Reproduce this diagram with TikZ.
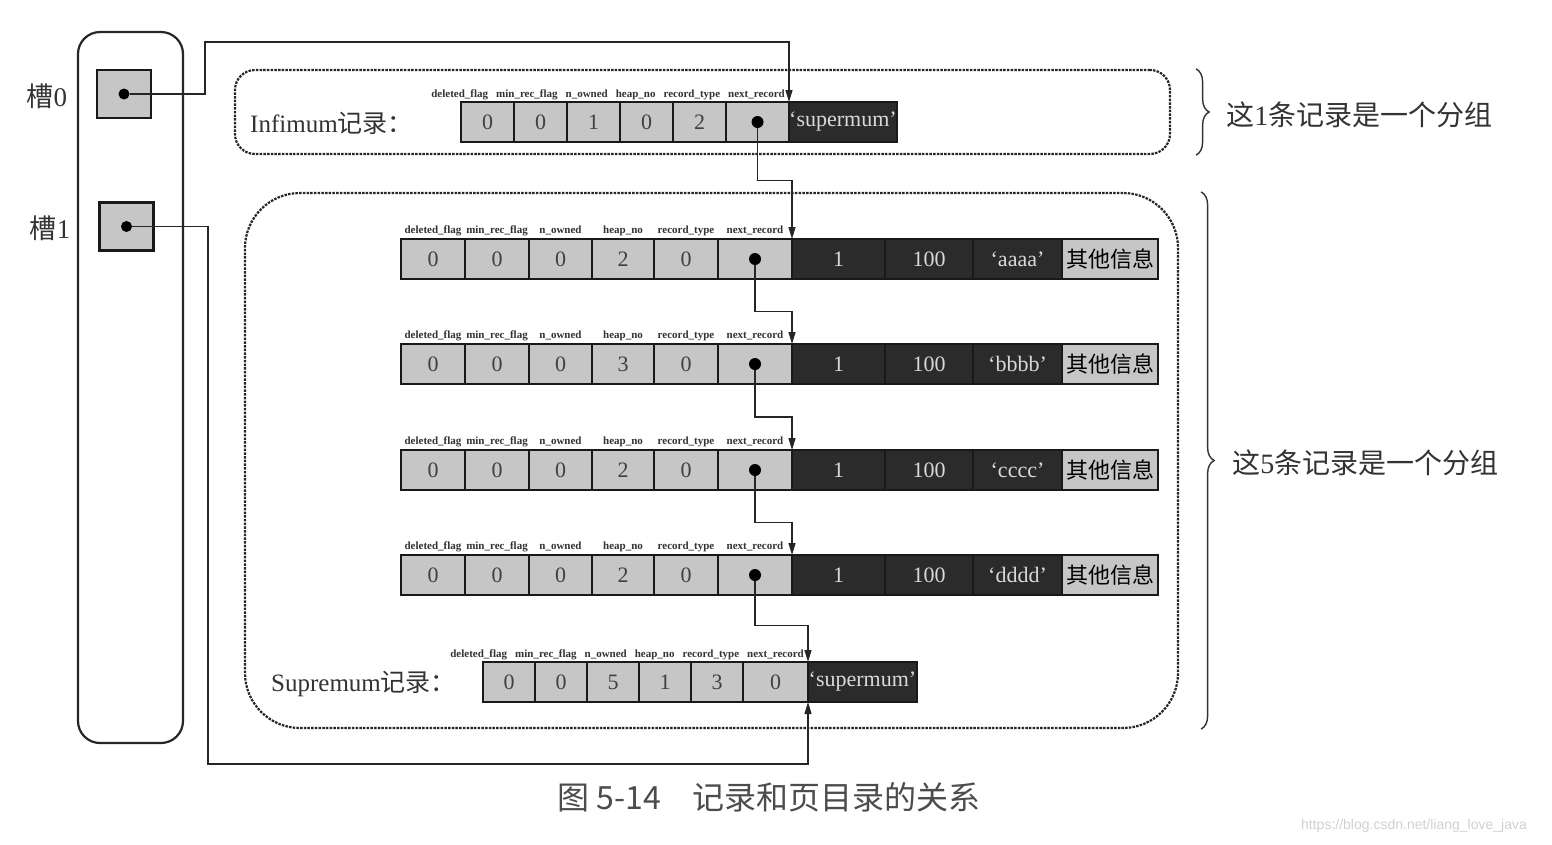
\documentclass[tikz,border=0pt]{standalone}
\usepackage{fontspec}
\setmainfont{Liberation Serif}
\newfontfamily\cjk{Noto Sans CJK SC}
\newfontfamily\wmfont{Liberation Sans}
\usetikzlibrary{positioning,calc,arrows.meta,decorations.pathreplacing}

\tikzset{
  cell/.style={draw=black!90, line width=1.8pt, fill=gray!45, text=black!75,
    minimum height=40pt, inner sep=0pt, outer sep=0pt, font=\fontsize{22}{22}\selectfont},
  dark/.style={cell, fill=black!83, text=white!85!black},
  field/.style={font=\fontsize{11}{11}\selectfont\bfseries, text=black!80, inner sep=0pt, text height=8pt, text depth=2pt},
  ptr/.style={circle, fill=black, inner sep=0pt, minimum size=12pt},
  slotbox/.style={draw=black!90, line width=2.5pt, fill=gray!45, minimum width=54pt, minimum height=48pt},
  link/.style={line width=1.3pt, draw=black!85, -{Triangle[length=12pt,width=7pt]}},
  grp/.style={draw=black!85, line width=2.2pt, dash pattern=on 2.5pt off 1.2pt},
  grpbrace/.style={draw=black!80, line width=1.4pt, decorate, decoration={brace, amplitude=13pt}},
  lbl/.style={font=\fontsize{25}{25}\selectfont, text=black!80, inner sep=0pt},
}

\begin{document}
\begin{tikzpicture}[x=1pt, y=-1pt]
\fill[white] (0,0) rectangle (1552,844);
\useasboundingbox (0,0) rectangle (1552,844);

% page directory
\node[draw=black!85, line width=2.2pt, rounded corners=22pt, minimum width=105pt, minimum height=711pt] (slots) at (130.5,387.5) {};
\node[slotbox] (s0) at (124,94) {};
\node[slotbox] (s1) at (126.5,226.5) {};
\node[ptr, minimum size=11pt] (s0-p) at (s0) {};
\node[ptr, minimum size=11pt] (s1-p) at (s1) {};
\node[lbl, font=\fontsize{27}{27}\selectfont] (l0) at (47,96) {{\cjk 槽}0};
\node[lbl, font=\fontsize{27}{27}\selectfont] (l1) at (50,228) {{\cjk 槽}1};

% groups
\node[grp, rounded corners=20pt, minimum width=935pt, minimum height=84pt] (g1) at (702.5,112) {};
\node[grp, rounded corners=55pt, minimum width=933pt, minimum height=535pt] (g2) at (711.5,460.5) {};

% infimum
\node[lbl, anchor=west] (inf-l) at (250,123) {Infimum{\cjk 记录：}};
\foreach \c/\x/\w/\v in {1/461/53/0,2/514/53/0,3/567/53/1,4/620/53/0,5/673/53/2,6/726/63/{}}{
  \node[cell, minimum width=\w pt, anchor=west] (inf-c\c) at (\x,122) {\v};
}
\node[ptr] (inf-p) at (inf-c6) {};
\node[dark, minimum width=108pt, anchor=west] (inf-c7) at (789,122) {`supermum'};
\node[field, anchor=south east] (inf-f) at ([xshift=-4pt,yshift=2pt]inf-c6.north east)
  {deleted\_flag\hspace{8pt}min\_rec\_flag\hspace{8pt}n\_owned\hspace{8pt}heap\_no\hspace{8pt}record\_type\hspace{8pt}next\_record};

% user records
\foreach \r/\y/\h/\s in {1/259/2/aaaa,2/364/3/bbbb,3/470/2/cccc,4/575/2/dddd}{
  \foreach \c/\x/\w/\v/\f in {1/401/64/0/deleted\_flag,2/465/64/0/min\_rec\_flag,3/529/63/0/n\_owned,
                              4/592/62/\h/heap\_no,5/654/64/0/record\_type,6/718/74/{}/next\_record}{
    \node[cell, minimum width=\w pt, anchor=west] (r\r-c\c) at (\x,\y) {\v};
    \node[field, above=3pt of r\r-c\c] (r\r-f\c) {\f};
  }
  \node[ptr] (r\r-p) at (r\r-c6) {};
  \node[dark, minimum width=93pt, anchor=west] (r\r-c7) at (792,\y) {1};
  \node[dark, minimum width=88pt, anchor=west] (r\r-c8) at (885,\y) {100};
  \node[dark, minimum width=89pt, anchor=west] (r\r-c9) at (973,\y) {`\s'};
  \node[cell, minimum width=96pt, anchor=west, text=black] (r\r-c10) at (1062,\y) {\cjk 其他信息};
}

% supremum
\node[lbl, anchor=west] (sup-l) at (271,684) {Supremum{\cjk 记录：}};
\foreach \c/\x/\w/\v in {1/483/52/0,2/535/52/0,3/587/52/5,4/639/52/1,5/691/52/3,6/743/65/0}{
  \node[cell, minimum width=\w pt, anchor=west] (sup-c\c) at (\x,682) {\v};
}
\node[dark, minimum width=109pt, anchor=west] (sup-c7) at (808,682) {`supermum'};
\node[field, anchor=south east] (sup-f) at ([xshift=-4pt,yshift=2pt]sup-c6.north east)
  {deleted\_flag\hspace{8pt}min\_rec\_flag\hspace{8pt}n\_owned\hspace{8pt}heap\_no\hspace{8pt}record\_type\hspace{8pt}next\_record};

% next_record chain
\foreach \a/\b/\t in {inf/r1/.4,r1/r2/.5,r2/r3/.5,r3/r4/.5,r4/sup/.45}
  \draw[link] (\a-p) |- ($(\a-c6.south)!\t!(\b-c6.north)$) -| (\b-c6.north east);

% slot pointers
\coordinate (k0) at (205,42);
\coordinate (k1) at (208,764);
\draw[link] (s0-p) -| (k0) -| (inf-c6.north east);
\draw[link] (s1-p) -| (k1) -| (sup-c6.south east);

% braces
\draw[grpbrace] ([xshift=25pt]g1.north east) -- ([xshift=25pt]g1.south east);
\draw[grpbrace] ([xshift=22pt]g2.north east) -- ([xshift=22pt]g2.south east);
\node[lbl, font=\fontsize{28}{28}\selectfont, anchor=west] (g1-t) at ([xshift=55pt,yshift=-3pt]g1.east) {{\cjk 这}1{\cjk 条记录是一个分组}};
\node[lbl, font=\fontsize{28}{28}\selectfont, anchor=west] (g2-t) at ([xshift=53pt,yshift=-2pt]g2.east) {{\cjk 这}5{\cjk 条记录是一个分组}};

% caption
\node[font=\cjk\fontsize{32}{32}\selectfont, text=black!70] (cap) at (769,797) {图 5-14　记录和页目录的关系};
\node[font=\wmfont\fontsize{14}{14}\selectfont, text=black!18] (wm) at (1414,826) {https://blog.csdn.net/liang\_love\_java};
\end{tikzpicture}
\end{document}
